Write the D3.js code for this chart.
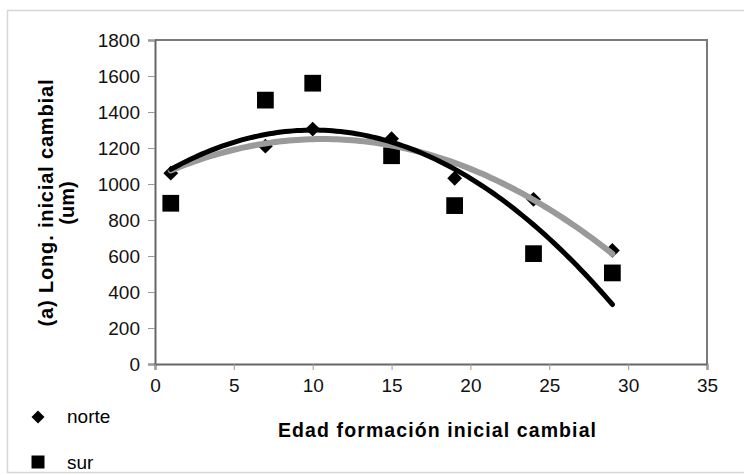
<!DOCTYPE html>
<html>
<head>
<meta charset="utf-8">
<script src="https://cdn.jsdelivr.net/npm/d3@7"></script>
<style>
  body { margin: 0; background: #fff; }
  svg { display: block; font-family: "Liberation Sans", Arial, sans-serif; }
</style>
</head>
<body>
<script>
// Edad formación inicial cambial (eje x)
const edades = [1, 7, 10, 15, 19, 24, 29];
// Long. inicial cambial (um)
const norte = [1060, 1210, 1305, 1252, 1032, 915, 631];
const sur = [893, 1466, 1560, 1157, 880, 613, 506];

const xTicks = [0, 5, 10, 15, 20, 25, 30, 35];
const yTicks = [0, 200, 400, 600, 800, 1000, 1200, 1400, 1600, 1800];

const width = 744, height = 475;

const svg = d3.select('body').append('svg')
    .attr('width', width)
    .attr('height', height);

// cadre extérieur
svg.append('rect')
    .attr('x', 7.5).attr('y', 10.5)
    .attr('width', 760).attr('height', 462)
    .attr('fill', 'none')
    .attr('stroke', '#d6d6d6')
    .attr('stroke-width', 1.5);

const x = d3.scaleLinear().domain([0, 35]).range([155, 707]);
const y = d3.scaleLinear().domain([0, 1800]).range([364, 40]);

// bordes del área de trazado (arriba y derecha)
svg.append('path')
    .attr('d', `M${x(0)},${y(1800)}H${x(35)}V${y(0)}`)
    .attr('fill', 'none')
    .attr('stroke', '#7a7a7a')
    .attr('stroke-width', 2);

// ejes
const yAxis = svg.append('g')
    .attr('transform', `translate(${x(0)},0)`)
    .call(d3.axisLeft(y).tickValues(yTicks).tickFormat(d3.format('d')).tickSize(7).tickPadding(8));
const xAxis = svg.append('g')
    .attr('transform', `translate(0,${y(0)})`)
    .call(d3.axisBottom(x).tickValues(xTicks).tickFormat(d3.format('d')).tickSize(6).tickPadding(9));

[yAxis, xAxis].forEach(g => {
    g.select('.domain').attr('stroke', '#666').attr('stroke-width', 2);
    g.selectAll('.tick line').attr('stroke', '#999').attr('stroke-width', 1);
    g.selectAll('.tick text')
        .attr('fill', '#111')
        .style('font-size', '19px')
        .style('font-family', '"Liberation Sans", Arial, sans-serif');
});

// tendencia polinómica de orden 2 (mínimos cuadrados)
function polyFit(xs, ys) {
    const n = xs.length;
    const m = d3.mean(xs);
    let su2 = 0, su3 = 0, su4 = 0, sy = 0, suy = 0, su2y = 0;
    xs.forEach((xv, i) => {
        const u = xv - m;
        su2 += u * u; su3 += u * u * u; su4 += u * u * u * u;
        sy += ys[i]; suy += u * ys[i]; su2y += u * u * ys[i];
    });
    const k1 = su2 / n, k2 = su3 / su2;
    const c = (su2y - k1 * sy - k2 * suy) / (su4 - k1 * su2 - k2 * su3);
    const a = (sy - su2 * c) / n;
    const b = (suy - su3 * c) / su2;
    return xv => a + b * (xv - m) + c * (xv - m) * (xv - m);
}

const fitNorte = polyFit(edades, norte);
const fitSur = polyFit(edades, sur);
const xs = d3.range(edades[0], edades[edades.length - 1] + 0.001, 0.25);

const line = f => d3.line()
    .x(d => x(d))
    .y(d => y(f(d)))(xs);

// marcadores
const diamond = d3.symbol().type(d3.symbolSquare).size(110);
const square = d3.symbol().type(d3.symbolSquare).size(280);

svg.append('g').selectAll('path')
    .data(edades)
    .join('path')
    .attr('d', diamond)
    .attr('transform', (d, i) => `translate(${x(d)},${y(norte[i])}) rotate(45)`)
    .attr('fill', '#000');

svg.append('g').selectAll('path')
    .data(edades)
    .join('path')
    .attr('d', square)
    .attr('transform', (d, i) => `translate(${x(d)},${y(sur[i])})`)
    .attr('fill', '#000');

svg.append('path')
    .attr('d', line(fitNorte))
    .attr('fill', 'none')
    .attr('stroke', '#9a9a9a')
    .attr('stroke-width', 6)
    .attr('stroke-linecap', 'round');

svg.append('path')
    .attr('d', line(fitSur))
    .attr('fill', 'none')
    .attr('stroke', '#000')
    .attr('stroke-width', 5)
    .attr('stroke-linecap', 'round');

// títulos de los ejes
svg.append('text')
    .attr('x', 437).attr('y', 437)
    .attr('text-anchor', 'middle')
    .style('font-size', '19.5px')
    .style('font-weight', 'bold')
    .attr('textLength', 318)
    .attr('lengthAdjust', 'spacing')
    .text('Edad formación inicial cambial');

const yTitle = svg.append('text')
    .attr('transform', 'translate(53,203) rotate(-90)')
    .attr('text-anchor', 'middle')
    .style('font-size', '20px')
    .style('font-weight', 'bold');
yTitle.append('tspan').attr('x', 0).attr('y', 0)
    .attr('textLength', 247).attr('lengthAdjust', 'spacing')
    .text('(a) Long. inicial cambial');
yTitle.append('tspan').attr('x', 0).attr('y', 21).text('(um)');

// leyenda
const legend = svg.append('g');
legend.append('path')
    .attr('d', d3.symbol().type(d3.symbolSquare).size(85))
    .attr('transform', 'translate(38,417) rotate(45)');
legend.append('path')
    .attr('d', d3.symbol().type(d3.symbolSquare).size(169))
    .attr('transform', 'translate(38,462)');
legend.append('text').attr('x', 67).attr('y', 423)
    .style('font-size', '19px').text('norte');
legend.append('text').attr('x', 67).attr('y', 469)
    .style('font-size', '19px').text('sur');
</script>
</body>
</html>
